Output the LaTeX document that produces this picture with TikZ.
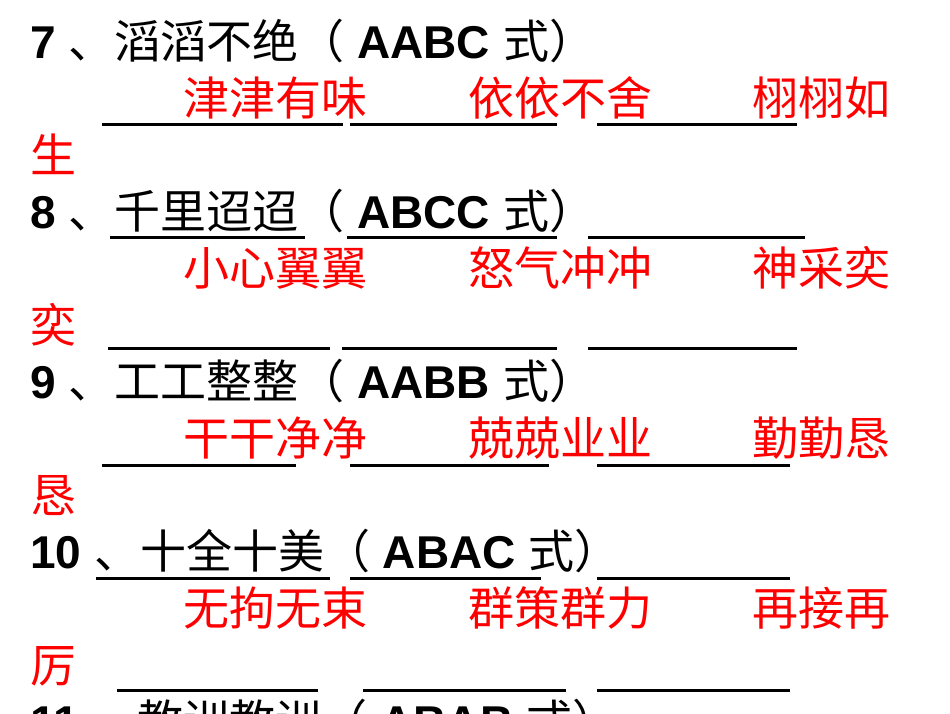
\documentclass[tikz,border=0pt]{standalone}
\usepackage{fontspec}
\setmainfont{Liberation Sans}[BoldFont={Liberation Sans Bold}]
\newfontfamily\cjk{Noto Sans CJK SC}
\newcommand\zh[1]{{\cjk\mdseries #1}}
\definecolor{myred}{RGB}{255,0,0}
\begin{document}
\begin{tikzpicture}[x=1pt,y=-1pt,
  txt/.style={anchor=base west,inner sep=0pt,font=\fontsize{46}{50}\selectfont\bfseries},
  ans/.style={txt,text=myred},
  ul/.style={line width=3pt}]
\useasboundingbox (0,0) rectangle (950,713);
% 7
\node[txt] (l1) at (30,58) {7 \zh{、滔滔不绝（} AABC \zh{式）}};
\node[ans] (a1) at (183,115) {\zh{津津有味}};
\node[ans] (b1) at (468,115) {\zh{依依不舍}};
\node[ans] (c1) at (752,115) {\zh{栩栩如}};
\node[ans] (d1) at (30,172) {\zh{生}};
\draw[ul] (102,124)--(343,124) (350,124)--(557,124) (597,124)--(797,124);
% 8
\node[txt] (l2) at (30,228) {8 \zh{、千里迢迢（} ABCC \zh{式）}};
\draw[ul] (110,237)--(305,237) (347,237)--(557,237) (588,237)--(805,237);
\node[ans] (a2) at (183,285) {\zh{小心翼翼}};
\node[ans] (b2) at (468,285) {\zh{怒气冲冲}};
\node[ans] (c2) at (752,285) {\zh{神采奕}};
\node[ans] (d2) at (30,342) {\zh{奕}};
\draw[ul] (108,348)--(330,348) (342,348)--(557,348) (588,348)--(797,348);
% 9
\node[txt] (l3) at (30,398) {9 \zh{、工工整整（} AABB \zh{式）}};
\node[ans] (a3) at (183,455) {\zh{干干净净}};
\node[ans] (b3) at (468,455) {\zh{兢兢业业}};
\node[ans] (c3) at (752,455) {\zh{勤勤恳}};
\node[ans] (d3) at (30,512) {\zh{恳}};
\draw[ul] (102,465)--(296,465) (350,465)--(549,465) (597,465)--(790,465);
% 10
\node[txt] (l4) at (30,568) {10 \zh{、十全十美（} ABAC \zh{式）}};
\draw[ul] (96,578)--(330,578) (350,578)--(541,578) (597,578)--(790,578);
\node[ans] (a4) at (183,625) {\zh{无拘无束}};
\node[ans] (b4) at (468,625) {\zh{群策群力}};
\node[ans] (c4) at (752,625) {\zh{再接再}};
\node[ans] (d4) at (30,682) {\zh{厉}};
\draw[ul] (117,690)--(318,690) (363,690)--(566,690) (597,690)--(790,690);
% 11
\node[txt] (l5) at (30,738) {11 \zh{、教训教训（} ABAB \zh{式）}};
\end{tikzpicture}
\end{document}
